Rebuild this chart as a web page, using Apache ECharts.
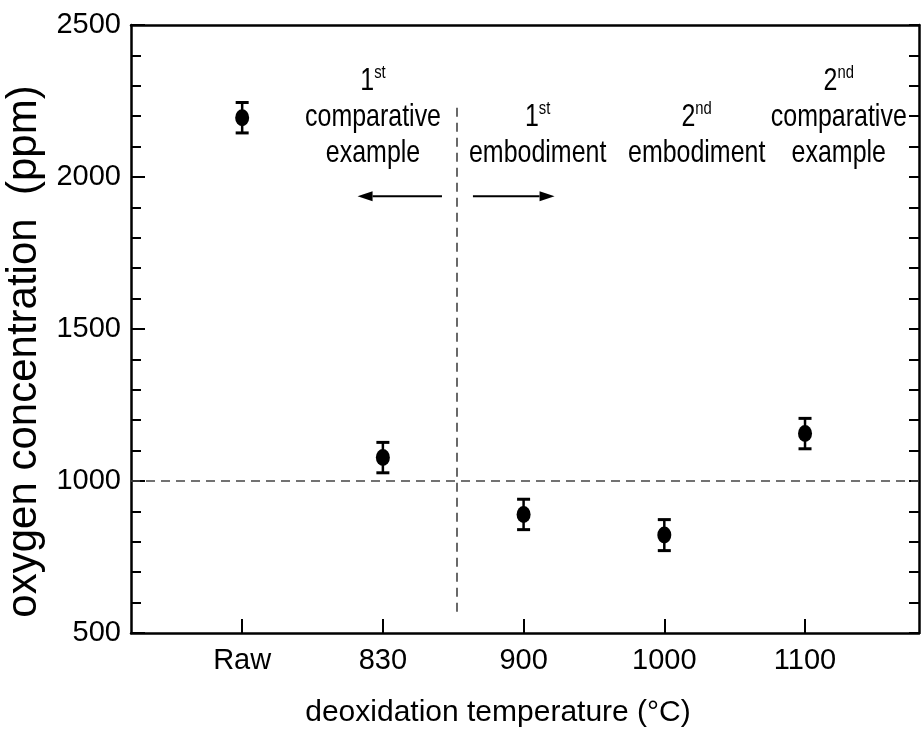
<!DOCTYPE html>
<html><head><meta charset="utf-8">
<script src="https://cdn.jsdelivr.net/npm/echarts@6/dist/echarts.min.js"></script>
<style>html,body{margin:0;padding:0;background:#fff}#c{width:921px;height:746px}</style>
</head><body><div id="c"></div>
<script>
const categories = ['Raw', '830', '900', '1000', '1100'];
const oxygen = [2195, 1077, 890, 822, 1156];
const errorHalf = [50, 50, 50, 51, 50];
const yMin = 500, yMax = 2500, yStep = 500;
const xMin = -0.79, xMax = 4.81;
const referenceLevel = 1000;
const dividerX = 1.526;
const dividerRange = [570, 2231];
const annotations = [
  { x: 0.93, text: '{b|1}{s|st}\n{b|comparative}\n{b|example}' },
  { x: 2.10, text: '{b|1}{s|st}\n{b|embodiment}' },
  { x: 3.23, text: '{b|2}{s|nd}\n{b|embodiment}' },
  { x: 4.24, text: '{b|2}{s|nd}\n{b|comparative}\n{b|example}' }
];
const annotationY = 2019;
const arrows = [
  { from: [1.42, 1937], to: [0.82, 1937] },
  { from: [1.64, 1937], to: [2.22, 1937] }
];

const SANS = "'Liberation Sans',Arial,sans-serif";
const idx = categories.map((c, i) => i);

const chart = echarts.init(document.getElementById('c'), null, { renderer: 'canvas' });
chart.setOption({
  animation: false,
  backgroundColor: '#fff',
  grid: { left: 131, right: 2, top: 25, bottom: 113, containLabel: false, outerBoundsMode: 'none' },
  xAxis: [{
    type: 'value', min: xMin, max: xMax, position: 'bottom',
    name: 'deoxidation temperature (°C)', nameLocation: 'middle', nameGap: 65,
    nameTextStyle: { fontFamily: SANS, fontSize: 30, color: '#000', padding: [0, 54, 0, 0] },
    axisLine: { show: true, onZero: false, lineStyle: { color: '#000', width: 2.5 } },
    axisTick: { show: true, inside: true, length: 14, customValues: idx, lineStyle: { color: '#000', width: 2 } },
    axisLabel: { show: true, margin: 13, customValues: idx, formatter: v => categories[Math.round(v)] ?? '', fontFamily: SANS, fontSize: 29, color: '#000' },
    splitLine: { show: false }
  }, {
    type: 'value', min: xMin, max: xMax, position: 'top',
    axisLine: { show: true, onZero: false, lineStyle: { color: '#000', width: 2.5 } },
    axisTick: { show: false }, axisLabel: { show: false }, splitLine: { show: false }
  }],
  yAxis: [{
    type: 'value', min: yMin, max: yMax, interval: yStep, position: 'left',
    name: 'oxygen concentration  (ppm)', nameLocation: 'middle', nameGap: 52,
    nameTextStyle: { fontFamily: SANS, fontSize: 42, color: '#000', padding: [0, 45, 0, 0] },
    axisLine: { show: true, onZero: false, lineStyle: { color: '#000', width: 2.5 } },
    axisTick: { show: true, inside: true, length: 14, lineStyle: { color: '#000', width: 2 } },
    minorTick: { show: true, splitNumber: 5, length: 10, lineStyle: { color: '#000', width: 2 } },
    axisLabel: { margin: 10, formatter: v => String(v), fontFamily: SANS, fontSize: 29, color: '#000' },
    splitLine: { show: false }
  }, {
    type: 'value', min: yMin, max: yMax, interval: yStep, position: 'right',
    axisLine: { show: true, onZero: false, lineStyle: { color: '#000', width: 2.5 } },
    axisTick: { show: true, inside: true, length: 10, lineStyle: { color: '#000', width: 2 } },
    minorTick: { show: true, splitNumber: 5, length: 10, lineStyle: { color: '#000', width: 2 } },
    axisLabel: { show: false }, splitLine: { show: false }
  }],
  series: [
    {
      type: 'custom', name: 'error',
      renderItem: (params, api) => {
        const x = api.value(0), y = api.value(1), e = api.value(2);
        const t = api.coord([x, y + e]), b = api.coord([x, y - e]);
        const hw = 6.5;
        return { type: 'group', children: [
          { type: 'line', shape: { x1: t[0], y1: t[1], x2: b[0], y2: b[1] }, style: { stroke: '#000', lineWidth: 2.5 } },
          { type: 'line', shape: { x1: t[0] - hw, y1: t[1], x2: t[0] + hw, y2: t[1] }, style: { stroke: '#000', lineWidth: 3 } },
          { type: 'line', shape: { x1: b[0] - hw, y1: b[1], x2: b[0] + hw, y2: b[1] }, style: { stroke: '#000', lineWidth: 3 } }
        ] };
      },
      data: idx.map(i => [i, oxygen[i], errorHalf[i]]),
      z: 3
    },
    {
      type: 'scatter', name: 'oxygen',
      symbol: 'circle', symbolSize: [14, 17],
      itemStyle: { color: '#000', opacity: 1 },
      data: idx.map(i => [i, oxygen[i]]),
      z: 4,
      markLine: {
        silent: true, symbol: ['none', 'none'], label: { show: false },
        lineStyle: { type: [9, 6], color: '#444', width: 1.6 },
        data: [
          { yAxis: referenceLevel },
          [{ coord: [dividerX, dividerRange[0]] }, { coord: [dividerX, dividerRange[1]] }]
        ]
      }
    },
    {
      type: 'custom', name: 'arrows',
      renderItem: (params, api) => {
        const p1 = api.coord([api.value(0), api.value(1)]);
        const p2 = api.coord([api.value(2), api.value(3)]);
        const dir = p2[0] > p1[0] ? 1 : -1;
        const hl = 15, hh = 5;
        return { type: 'group', children: [
          { type: 'line', shape: { x1: p1[0], y1: p1[1], x2: p2[0] - dir * hl, y2: p2[1] }, style: { stroke: '#000', lineWidth: 2 } },
          { type: 'polygon', shape: { points: [[p2[0], p2[1]], [p2[0] - dir * hl, p2[1] - hh], [p2[0] - dir * hl, p2[1] + hh]] }, style: { fill: '#000' } }
        ] };
      },
      data: arrows.map(a => [a.from[0], a.from[1], a.to[0], a.to[1]])
    },
    {
      type: 'custom', name: 'labels',
      renderItem: (params, api) => {
        const p = api.coord([api.value(0), api.value(1)]);
        return {
          type: 'text', x: p[0], y: p[1], scaleX: 0.78,
          style: {
            text: annotations[params.dataIndex].text,
            align: 'center', verticalAlign: 'bottom',
            rich: {
              b: { fontSize: 32, fontFamily: SANS, lineHeight: 36, fill: '#000', color: '#000' },
              s: { fontSize: 19, fontFamily: SANS, verticalAlign: 'top', fill: '#000', color: '#000' }
            }
          }
        };
      },
      data: annotations.map(a => [a.x, annotationY])
    }
  ]
});
</script></body></html>
